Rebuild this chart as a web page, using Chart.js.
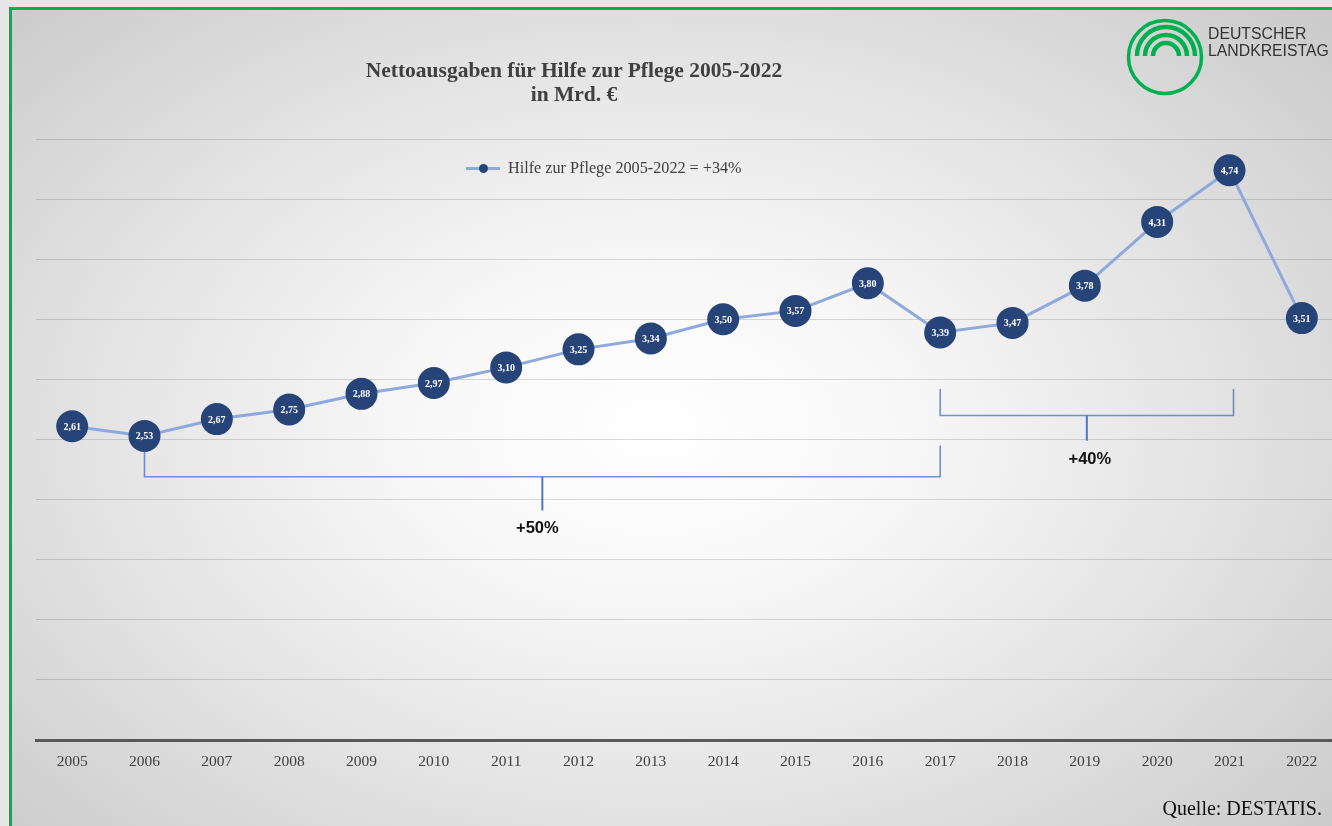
<!DOCTYPE html>
<html lang="de">
<head>
<meta charset="utf-8">
<script src="https://cdn.jsdelivr.net/npm/chart.js@4.4.1/dist/chart.umd.min.js"></script>
<style>
  html, body { margin: 0; padding: 0; width: 1332px; height: 826px; overflow: hidden; background: #e6e6e6; }
  #frame {
    position: absolute; left: 9px; top: 7px; width: 1340px; height: 840px;
    border-left: 3px solid #00b050; border-top: 3px solid #00b050;
    background: radial-gradient(ellipse 75% 80% at 48% 50%, #ffffff 0%, #f7f7f7 25%, #e2e2e2 58%, #c4c4c4 100%);
  }
  #wrap { position: absolute; left: 0; top: 0; width: 1360px; height: 826px; }
  #chart { display: block; }
  .title {
    position: absolute; left: 274px; width: 600px; top: 58px; text-align: center;
    font: bold 21.5px "Liberation Serif", serif; color: #404040; line-height: 24px;
  }
  .legend {
    position: absolute; left: 466px; top: 159px; font: 16.2px "Liberation Serif", serif; color: #404040;
    display: flex; align-items: center; white-space: nowrap;
  }
  .legend .swatch { position: relative; width: 34px; height: 3px; background: #8ea9db; margin-right: 8px; }
  .legend .swatch::after {
    content: ""; position: absolute; left: 13px; top: -3px; width: 9px; height: 9px; border-radius: 50%; background: #264478;
  }
  .logo-text {
    position: absolute; left: 1208px; top: 25px; font: 15.8px "Liberation Sans", Arial, sans-serif; color: #333;
    line-height: 17px;
  }
  .source {
    position: absolute; right: 10px; top: 797px; font: 20px "Liberation Serif", serif; color: #111;
  }
</style>
</head>
<body>
<div id="frame"></div>
<div id="wrap"><canvas id="chart" width="1360" height="826" style="width:1360px;height:826px"></canvas></div>
<div class="title">Nettoausgaben für Hilfe zur Pflege 2005-2022<br>in Mrd. €</div>
<div class="legend"><span class="swatch"></span><span id="legendText"></span></div>
<svg style="position:absolute;left:0;top:0" width="1332" height="110">
  <g fill="none" stroke="#00b050">
    <circle cx="1165" cy="57" r="36.5" stroke-width="3.5"/>
    <path d="M1137 56 A29 29 0 0 1 1195 56" stroke-width="4.5"/>
    <path d="M1145 56 A21 21 0 0 1 1187 56" stroke-width="4.5"/>
    <path d="M1153 56 A13 13 0 0 1 1179 56" stroke-width="4.5"/>
  </g>
</svg>
<div class="logo-text">DEUTSCHER<br>LANDKREISTAG</div>
<div class="source">Quelle: DESTATIS.</div>
<script>
// ---------- data ----------
const years = ['2005','2006','2007','2008','2009','2010','2011','2012','2013','2014','2015','2016','2017','2018','2019','2020','2021','2022'];
const spending = [2.61, 2.53, 2.67, 2.75, 2.88, 2.97, 3.10, 3.25, 3.34, 3.50, 3.57, 3.80, 3.39, 3.47, 3.78, 4.31, 4.74, 3.51];
const seriesLabel = 'Hilfe zur Pflege 2005-2022 = +34%';
const yTicks = [0, 5, 0.5]; // min, max, step (Mrd. €)

// growth brackets: from year, to year, label
const bracketFrom = ['2006', '2017'];
const bracketTo = ['2017', '2021'];
const bracketLabel = ['+50%', '+40%'];

document.getElementById('legendText').textContent = seriesLabel;

// bracket geometry in value units (top of arms, bar, tick end, label)
const bracketGeom = [
  { armTopL: 2.40, armTopR: 2.45, bar: 2.19, tickEnd: 1.91, text: 1.76 },
  { armTopL: 2.92, armTopR: 2.92, bar: 2.70, tickEnd: 2.49, text: 2.33 }
];

const fmt = (v) => v.toFixed(2).replace('.', ',');

const pointLabels = {
  id: 'pointLabels',
  afterDatasetsDraw(chart) {
    const { ctx } = chart;
    const meta = chart.getDatasetMeta(0);
    ctx.save();
    ctx.fillStyle = '#ffffff';
    ctx.font = 'bold 10px "Liberation Serif", serif';
    ctx.textAlign = 'center';
    ctx.textBaseline = 'middle';
    meta.data.forEach((pt, i) => ctx.fillText(fmt(spending[i]), pt.x, pt.y + 1));
    ctx.restore();
  }
};

const brackets = {
  id: 'brackets',
  afterDatasetsDraw(chart) {
    const { ctx, scales: { x, y } } = chart;
    ctx.save();
    bracketFrom.forEach((from, i) => {
      const g = bracketGeom[i];
      const x1 = x.getPixelForValue(years.indexOf(from));
      const x2 = x.getPixelForValue(years.indexOf(bracketTo[i])) + (i === 1 ? 4 : 0);
      const yBar = y.getPixelForValue(g.bar);
      const xm = (x1 + x2) / 2;
      ctx.strokeStyle = 'rgba(68,114,196,0.75)';
      ctx.lineWidth = 1.6;
      ctx.beginPath();
      ctx.moveTo(x1, y.getPixelForValue(g.armTopL));
      ctx.lineTo(x1, yBar);
      ctx.lineTo(x2, yBar);
      ctx.lineTo(x2, y.getPixelForValue(g.armTopR));
      ctx.stroke();
      ctx.strokeStyle = 'rgba(68,114,196,0.95)';
      ctx.lineWidth = 2;
      ctx.beginPath();
      ctx.moveTo(xm, yBar);
      ctx.lineTo(xm, y.getPixelForValue(g.tickEnd));
      ctx.stroke();
      ctx.fillStyle = '#111';
      ctx.font = 'bold 16.5px "Liberation Sans", Arial, sans-serif';
      ctx.textAlign = 'center';
      ctx.textBaseline = 'middle';
      ctx.fillText(bracketLabel[i], xm - 5 + i * 8, y.getPixelForValue(g.text));
    });
    ctx.restore();
  }
};

new Chart(document.getElementById('chart'), {
  type: 'line',
  data: {
    labels: years,
    datasets: [{
      label: seriesLabel,
      data: spending,
      borderColor: '#8ea9db',
      borderWidth: 3,
      pointRadius: 16,
      pointHoverRadius: 16,
      pointBackgroundColor: '#264478',
      pointBorderColor: '#264478',
      pointBorderWidth: 0,
      tension: 0,
      clip: false
    }]
  },
  options: {
    responsive: false,
    animation: false,
    layout: { padding: { left: 36, right: 22, top: 139, bottom: 0 } },
    plugins: { legend: { display: false }, tooltip: { enabled: false }, title: { display: false } },
    scales: {
      x: {
        offset: true,
        grid: { display: false, drawTicks: false },
        border: { display: true, color: '#595959', width: 3 },
        ticks: { color: '#404040', font: { family: '"Liberation Serif", serif', size: 15.5 }, padding: 13, maxRotation: 0 },
        afterFit(scale) { scale.height = 86; }
      },
      y: {
        min: yTicks[0], max: yTicks[1],
        ticks: { display: false, stepSize: yTicks[2] },
        grid: { color: 'rgba(0,0,0,0.14)', lineWidth: 1, drawTicks: false },
        border: { display: false }
      }
    }
  },
  plugins: [brackets, pointLabels]
});
</script>
</body>
</html>
